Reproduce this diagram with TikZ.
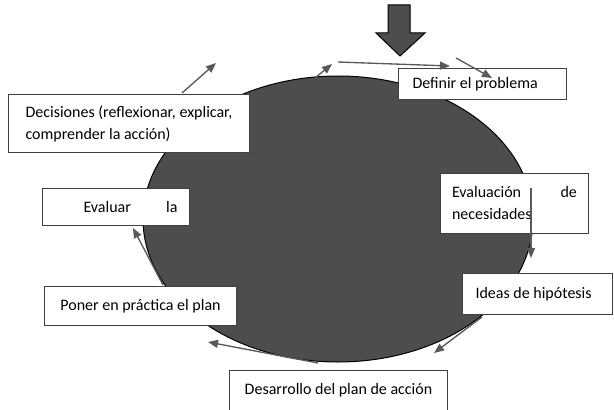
\documentclass[tikz,border=0pt]{standalone}
\usepackage{fontspec}
\setmainfont{Carlito}
\usetikzlibrary{arrows.meta}

\definecolor{oscuro}{RGB}{77,77,77}
\definecolor{grisflecha}{RGB}{89,89,89}
\definecolor{borde}{RGB}{64,64,64}

\tikzset{every picture/.style={line width=0.75pt}}
\tikzset{
  caja/.style={draw=borde, fill=white, line width=0.75, inner sep=0.75pt, anchor=north west, font=\fontsize{12}{16.5}\selectfont},
  flecha/.style={draw=grisflecha, line width=1, -{Triangle[length=7.5pt,width=6pt]}}
}

\begin{document}
\begin{tikzpicture}[x=0.75pt,y=0.75pt,yscale=-1,xscale=1]
%set diagram left start at 0, and has height of 410
\useasboundingbox (0,0) rectangle (614,410);
\clip (0,0) rectangle (614,410);

%Shape: Ellipse [id:centro]
\draw [draw=black, fill=oscuro, line width=0.75] (338,219) ellipse [x radius=195, y radius=143];

%Shape: Down Arrow [id:entrada]
\draw [draw=black, fill=oscuro, line width=0.75] (388,5) -- (410,5) -- (410,33) -- (425,33) -- (400,56) -- (376,33) -- (388,33) -- cycle;

% Text Node
\node [caja, minimum width=126pt, minimum height=23.25pt] (definir) at (398,68) {\makebox[105pt][l]{Definir el problema}};
% Text Node
\node [caja, minimum width=180.75pt, minimum height=43.5pt, align=left] (decisiones) at (8,94) {Decisiones (reflexionar, explicar,\\comprender la acción)};
% Text Node
\node [caja, minimum width=111pt, minimum height=45pt, align=left] (necesidades) at (440,173) {\makebox[93.75pt]{Evaluación\hfill de}\\necesidades};
% Text Node
\node [caja, minimum width=110.25pt, minimum height=27.75pt] (evaluar) at (42,188) {\hspace*{21.75pt}\makebox[70.5pt]{Evaluar\hfill la}};
% Text Node
\node [caja, minimum width=144pt, minimum height=29.25pt] (poner) at (44,286) {Poner en práctica el plan};
% Text Node
\node [caja, minimum width=112.5pt, minimum height=30.75pt] (ideas) at (462,273) {\makebox[93pt][l]{Ideas de hipótesis}};
% Text Node
\node [caja, minimum width=163.5pt, text height=8pt, text depth=30pt, inner ysep=10pt] (desarrollo) at (229,370) {Desarrollo del plan de acción};

%Arrow ends
\coordinate (d1) at (182,93);   \coordinate (d2) at (216,63);
\coordinate (s1) at (315,78);   \coordinate (s2) at (332,64);
\coordinate (t1) at (338,62);   \coordinate (t2) at (450,66);
\coordinate (p1) at (456,58);   \coordinate (p2) at (492,78);
\coordinate (n1) at (531,188);  \coordinate (n2) at (531,258);
\coordinate (h1) at (482,317);  \coordinate (h2) at (434,353);
\coordinate (a1) at (318,363);  \coordinate (a2) at (208,342);
\coordinate (e1) at (163,285);  \coordinate (e2) at (133,228);

%Straight Lines [id:flechas]
\draw [flecha] (d1) -- (d2);
\draw [flecha] (s1) -- (s2);
\draw [flecha] (t1) -- (t2);
\draw [flecha] (p1) -- (p2);
\draw [flecha] (n1) -- (n2);
\draw [flecha] (h1) -- (h2);
\draw [flecha] (a1) -- (a2);
\draw [flecha] (e1) -- (e2);

\end{tikzpicture}
\end{document}
